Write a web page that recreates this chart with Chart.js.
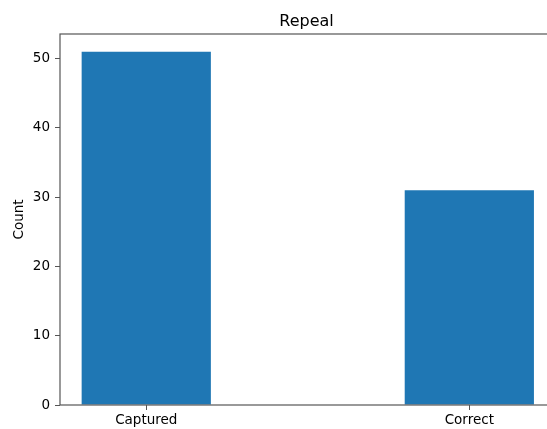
<!DOCTYPE html>
<html>
<head>
<meta charset="utf-8">
<script src="https://cdn.jsdelivr.net/npm/chart.js@4/dist/chart.umd.min.js"></script>
<style>
html,body{margin:0;padding:0;overflow:hidden;background:#fff;}
#wrap{width:560px;height:429px;}
</style>
</head>
<body>
<div id="wrap"><canvas id="c" width="560" height="429"></canvas></div>
<script>
const categories = ["Captured", "Correct"];
const counts = [51, 31];
const yTicks = [0, 10, 20, 30, 40, 50];
const chartTitle = "Repeal";
const yTitle = "Count";

const FONT = "'DejaVu Sans', sans-serif";
const AXIS = "#555";

const framePlugin = {
  id: 'frame',
  afterDatasetsDraw(chart) {
    const {ctx, chartArea: a} = chart;
    ctx.save();
    ctx.strokeStyle = AXIS;
    ctx.lineWidth = 1.2;
    ctx.strokeRect(a.left, a.top, a.right - a.left, a.bottom - a.top);
    ctx.fillStyle = '#000';
    ctx.font = "16px " + FONT;
    ctx.textAlign = 'center';
    ctx.textBaseline = 'alphabetic';
    ctx.fillText(chartTitle, (a.left + a.right) / 2, 26);
    ctx.restore();
  }
};

new Chart(document.getElementById('c'), {
  type: 'bar',
  data: {
    datasets: [{
      data: categories.map((c, i) => ({x: i, y: counts[i]})),
      backgroundColor: '#1f77b4',
      borderWidth: 0,
      barPercentage: 0.4,
      categoryPercentage: 1.0
    }]
  },
  options: {
    responsive: false,
    animation: false,
    devicePixelRatio: 1,
    layout: {padding: {top: 34, right: 7, left: 0, bottom: 0}},
    plugins: {legend: {display: false}, tooltip: {enabled: false}, title: {display: false}},
    scales: {
      x: {
        type: 'linear',
        offset: false,
        min: -0.267, max: 1.259,
        afterBuildTicks(s) { s.ticks = categories.map((c, i) => ({value: i})); },
        afterFit(s) { s.height = 24; },
        border: {display: false},
        grid: {offset: false, drawOnChartArea: false, drawTicks: true, tickLength: 5, color: AXIS, lineWidth: 1},
        ticks: {
          callback: (v) => categories[v],
          color: '#000', font: {family: FONT, size: 13.5}, padding: 2, maxRotation: 0, autoSkip: false
        }
      },
      y: {
        min: 0, max: 53.55,
        afterBuildTicks(s) { s.ticks = yTicks.map(v => ({value: v})); },
        afterFit(s) { s.width = 60; },
        border: {display: false},
        grid: {drawOnChartArea: false, drawTicks: true, tickLength: 5, color: AXIS, lineWidth: 1},
        ticks: {color: '#000', font: {family: FONT, size: 13.5}, padding: 5},
        title: {display: true, text: yTitle, color: '#000', font: {family: FONT, size: 13.5}, padding: {top: 11, bottom: 0}}
      }
    }
  },
  plugins: [framePlugin]
});
</script>
</body>
</html>
